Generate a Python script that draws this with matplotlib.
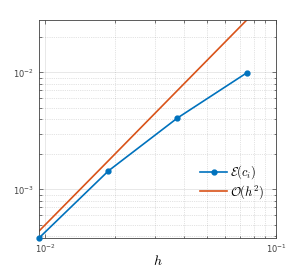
import matplotlib
matplotlib.use('Agg')
import matplotlib.pyplot as plt
import numpy as np

h = [0.00940, 0.0188, 0.0374, 0.0747]
err = [3.84e-4, 1.44e-3, 4.07e-3, 9.9e-3]
ref = [4.4e-4, 1.76e-3, 7.0e-3, 2.8e-2]

plt.rcParams['mathtext.fontset'] = 'cm'

fig = plt.figure(figsize=(3.04, 2.69), dpi=100)
ax = fig.add_axes([39/304, 1 - 238/269, 237/304, 218/269])

ax.loglog(h, err, '-o', color='#0072BD', lw=1.2, ms=3.5, label=r'$\mathcal{E}(c_i)$', clip_on=False, zorder=3)
ax.loglog(h, ref, '-', color='#D95319', lw=1.2, label=r'$\mathcal{O}(h^2)$', zorder=2)

ax.set_xlim(0.00940, 0.1)
ax.set_ylim(3.84e-4, 2.8e-2)

ax.grid(True, which='major', color='#262626', alpha=0.12, lw=0.6, ls='-')
ax.grid(True, which='minor', color='#262626', alpha=0.25, lw=0.5, ls=':')

ax.tick_params(which='both', direction='in', top=True, right=True, colors='#404040', labelsize=6)
ax.tick_params(which='major', length=3, width=0.5)
ax.tick_params(which='minor', length=1.8, width=0.5)
for s in ax.spines.values():
    s.set_color('#404040')
    s.set_linewidth(0.6)

ax.set_xlabel(r'$h$', fontsize=10, labelpad=-1)

ax.legend(loc='center left', bbox_to_anchor=(0.66, 0.255), frameon=False,
          fontsize=9, handlelength=2.1, handletextpad=0.3, labelspacing=0.15, borderaxespad=0)

fig.savefig('out.png', dpi=100)
